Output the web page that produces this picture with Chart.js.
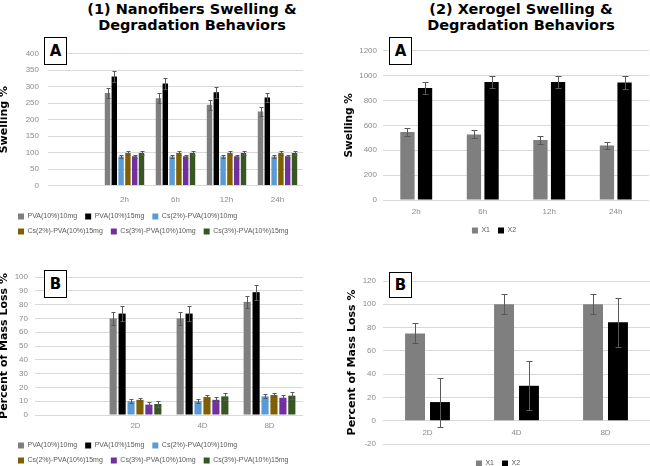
<!DOCTYPE html>
<html>
<head>
<meta charset="utf-8">
<script src="https://cdn.jsdelivr.net/npm/chart.js@4.4.1/dist/chart.umd.min.js"></script>
<style>
  html, body { margin: 0; padding: 0; width: 650px; height: 466px; overflow: hidden; background: #fff; }
  canvas { position: absolute; }
  .title { position: absolute; width: 300px; font: bold 14.5px/16px "DejaVu Sans", sans-serif; text-align: center; white-space: nowrap; color: #000; }
  .tag { position: absolute; box-sizing: border-box; border: 1.5px solid #000; background: #fff; z-index: 2;
         font: bold 15px "DejaVu Sans", sans-serif; display: flex; align-items: center; justify-content: center; }
</style>
</head>
<body>
<div class="title" style="left:42px; top:1px;">(1) Nanofibers Swelling &amp;<br>Degradation Behaviors</div>
<div class="title" style="left:371px; top:1px;">(2) Xerogel Swelling &amp;<br>Degradation Behaviors</div>

<canvas id="fiber-swell" width="330" height="205" style="left:0; top:40px;"></canvas>
<canvas id="fiber-loss" width="330" height="212" style="left:0; top:262px;"></canvas>
<canvas id="gel-swell" width="328" height="204" style="left:330px; top:40px;"></canvas>
<canvas id="gel-loss" width="336" height="211" style="left:330px; top:266px;"></canvas>

<div class="tag" style="left:44px; top:37px; width:23px; height:28px;">A</div>
<div class="tag" style="left:389px; top:37px; width:23px; height:28px;">A</div>
<div class="tag" style="left:44px; top:270px; width:23px; height:28px;">B</div>
<div class="tag" style="left:389px; top:272px; width:23px; height:26px;">B</div>

<script>
// --- data ---
const fiberNames = ['PVA(10%)10mg', 'PVA(10%)15mg', 'Cs(2%)-PVA(10%)10mg',
                    'Cs(2%)-PVA(10%)15mg', 'Cs(3%)-PVA(10%)10mg', 'Cs(3%)-PVA(10%)15mg'];
const fiberColors = ['#7f7f7f', '#000000', '#5b9bd5', '#7f6000', '#7030a0', '#375623'];

// (1-A) swelling of nanofibers, first slot is an empty category
const swellTimes = ['', '2h', '6h', '12h', '24h'];
const swellPva10 = [null, 281, 265, 245, 225];
const swellPva10Err = [null, 16, 15, 15, 13];
const swellPva15 = [null, 331, 310, 283, 267];
const swellPva15Err = [null, 16, 16, 16, 14];
const swellCs2Pva10 = [null, 88, 88, 88, 88];
const swellCs2Pva15 = [null, 99, 99, 99, 99];
const swellCs3Pva10 = [null, 89, 89, 89, 89];
const swellCs3Pva15 = [null, 99, 99, 99, 99];
const swellCsErr = [null, 5, 5, 5, 5];

// (1-B) mass loss of nanofibers
const lossDays = ['', '2D', '4D', '8D'];
const lossPva10 = [null, 70, 70, 82];
const lossPva10Err = [null, 4.5, 4.5, 4.5];
const lossPva15 = [null, 73.5, 73.5, 89];
const lossPva15Err = [null, 5.5, 5.5, 5.5];
const lossCs2Pva10 = [null, 10, 10, 13.5];
const lossCs2Pva10Err = [null, 1.5, 1.5, 1.5];
const lossCs2Pva15 = [null, 11, 13, 14.5];
const lossCs2Pva15Err = [null, 1.2, 1.5, 1.5];
const lossCs3Pva10 = [null, 7.5, 11, 12.5];
const lossCs3Pva10Err = [null, 1.8, 2, 2];
const lossCs3Pva15 = [null, 8, 13.5, 14];
const lossCs3Pva15Err = [null, 2.5, 2.5, 2.5];

// (2-A) swelling of xerogels
const gelTimes = ['2h', '6h', '12h', '24h'];
const gelSwellX1 = [546, 527, 483, 438];
const gelSwellX1Err = [32, 32, 30, 26];
const gelSwellX2 = [900, 950, 950, 945];
const gelSwellX2Err = [47, 50, 50, 52];

// (2-B) mass loss of xerogels
const gelDays = ['2D', '4D', '8D'];
const gelLossX1 = [75, 100, 100];
const gelLossX1Err = [8.5, 8.5, 8.5];
const gelLossX2 = [16, 30, 84.5];
const gelLossX2Err = [21, 21, 21];

const FONT = "'Liberation Sans', Arial, sans-serif";
const TITLE_FONT = "'DejaVu Sans', sans-serif";
const TICK_COLOR = '#8c8c8c';
const GRID_COLOR = '#d9d9d9';

// desenha as barras de erro a partir da escala y
const errorBars = {
    id: 'errorBars',
    afterDatasetsDraw(chart, args, opts) {
        const ctx = chart.ctx;
        const yScale = chart.scales.y;
        ctx.save();
        ctx.strokeStyle = '#595959';
        ctx.lineWidth = 1;
        chart.data.datasets.forEach((ds, i) => {
            if (!ds.errors) return;
            chart.getDatasetMeta(i).data.forEach((bar, j) => {
                const v = ds.data[j], e = ds.errors[j];
                if (v == null || e == null) return;
                const x = Math.round(bar.x) + 0.5;
                const top = Math.round(yScale.getPixelForValue(v + e)) + 0.5;
                const bot = Math.round(yScale.getPixelForValue(v - e)) + 0.5;
                const w = opts.cap;
                ctx.beginPath();
                ctx.moveTo(x, top); ctx.lineTo(x, bot);
                ctx.moveTo(x - w, top); ctx.lineTo(x + w, top);
                ctx.moveTo(x - w, bot); ctx.lineTo(x + w, bot);
                ctx.stroke();
            });
        });
        ctx.restore();
    }
};

function series(label, data, errors, color) {
    return { label, data, errors, backgroundColor: color, borderWidth: 0, xAxisID: 'x', yAxisID: 'y' };
}

function makeChart(id, c) {
    const scales = {
        x: {
            position: c.zeroAxis ? { y: 0 } : 'bottom',
            grid: { display: false, drawTicks: false },
            border: { display: false },
            ticks: { color: TICK_COLOR, font: { family: FONT, size: 8 }, padding: c.xPad },
            afterFit: (s) => { if (!c.zeroAxis) s.height = c.xHeight; },
        },
        y: {
            min: c.yMin, max: c.yMax,
            grid: { color: GRID_COLOR, drawTicks: false },
            border: { display: false },
            ticks: {
                stepSize: c.step, color: TICK_COLOR, font: { family: FONT, size: 8 }, padding: c.yPad,
                callback: (v) => String(v),
            },
            title: {
                display: true, text: c.yTitle, color: '#000',
                font: { family: TITLE_FONT, size: c.titleSize, weight: 'bold' },
                padding: { top: c.titlePad, bottom: 0 },
            },
            afterFit: (s) => { s.width = c.yWidth; },
        },
        yr: {
            position: 'right',
            grid: { display: false, drawTicks: false },
            border: { display: false },
            ticks: { display: false },
            afterFit: (s) => { s.width = c.rightWidth; },
        },
    };
    if (c.zeroAxis) {
        scales.xb = {
            type: 'category', position: 'bottom',
            grid: { display: false, drawTicks: false }, border: { display: false }, ticks: { display: false },
            afterFit: (s) => { s.height = c.xHeight; },
        };
    }
    return new Chart(document.getElementById(id), {
        type: 'bar',
        data: { labels: c.labels, datasets: c.datasets },
        options: {
            responsive: false,
            animation: false,
            datasets: { bar: { categoryPercentage: c.catPct, barPercentage: c.barPct } },
            layout: { padding: c.padding },
            scales,
            plugins: {
                legend: {
                    position: 'bottom',
                    align: c.legendAlign,
                    labels: {
                        boxWidth: 6, boxHeight: 6, padding: 8,
                        color: '#595959', font: { family: FONT, size: 7 },
                    },
                },
                tooltip: { enabled: false },
                errorBars: { cap: c.cap },
            },
        },
        plugins: [errorBars],
    });
}

makeChart('fiber-swell', {
    labels: swellTimes,
    datasets: [
        series(fiberNames[0], swellPva10, swellPva10Err, fiberColors[0]),
        series(fiberNames[1], swellPva15, swellPva15Err, fiberColors[1]),
        series(fiberNames[2], swellCs2Pva10, swellCsErr, fiberColors[2]),
        series(fiberNames[3], swellCs2Pva15, swellCsErr, fiberColors[3]),
        series(fiberNames[4], swellCs3Pva10, swellCsErr, fiberColors[4]),
        series(fiberNames[5], swellCs3Pva15, swellCsErr, fiberColors[5]),
    ],
    yMin: 0, yMax: 400, step: 50, yTitle: 'Swelling %', titleSize: 11, titlePad: -12.6,
    padding: { left: 10, top: 8, right: 0, bottom: 0 },
    yWidth: 38, yPad: 9, rightWidth: 27, xHeight: 19.5, xPad: 9.7,
    catPct: 0.8, barPct: 0.8, cap: 2, legendAlign: 'start',
});

makeChart('fiber-loss', {
    labels: lossDays,
    datasets: [
        series(fiberNames[0], lossPva10, lossPva10Err, fiberColors[0]),
        series(fiberNames[1], lossPva15, lossPva15Err, fiberColors[1]),
        series(fiberNames[2], lossCs2Pva10, lossCs2Pva10Err, fiberColors[2]),
        series(fiberNames[3], lossCs2Pva15, lossCs2Pva15Err, fiberColors[3]),
        series(fiberNames[4], lossCs3Pva10, lossCs3Pva10Err, fiberColors[4]),
        series(fiberNames[5], lossCs3Pva15, lossCs3Pva15Err, fiberColors[5]),
    ],
    yMin: 0, yMax: 100, step: 10, yTitle: 'Percent of Mass Loss %', titleSize: 11, titlePad: -12.6,
    padding: { left: 10, top: 15, right: 0, bottom: 0 },
    yWidth: 25, yPad: 7, rightWidth: 27, xHeight: 19, xPad: 6.2,
    catPct: 0.8, barPct: 0.8, cap: 2, legendAlign: 'start',
});

makeChart('gel-swell', {
    labels: gelTimes,
    datasets: [
        series('X1', gelSwellX1, gelSwellX1Err, '#7f7f7f'),
        series('X2', gelSwellX2, gelSwellX2Err, '#000000'),
    ],
    yMin: 0, yMax: 1200, step: 200, yTitle: 'Swelling %', titleSize: 10.5, titlePad: 13.2,
    padding: { left: 0, top: 8, right: 0, bottom: 0 },
    yWidth: 53, yPad: 6, rightWidth: 9, xHeight: 19, xPad: 7.2,
    catPct: 0.53, barPct: 0.81, cap: 3, legendAlign: 'center',
});

makeChart('gel-loss', {
    labels: gelDays,
    datasets: [
        series('X1', gelLossX1, gelLossX1Err, '#7f7f7f'),
        series('X2', gelLossX2, gelLossX2Err, '#000000'),
    ],
    yMin: -20, yMax: 120, step: 20, yTitle: 'Percent of Mass Loss %', titleSize: 11, titlePad: 15.4,
    padding: { left: 0, top: 15, right: 0, bottom: 0 },
    yWidth: 53, yPad: 7, rightWidth: 16, xHeight: 8, xPad: 7, zeroAxis: true,
    catPct: 0.56, barPct: 0.8, cap: 3, legendAlign: 'center',
});
</script>
</body>
</html>
